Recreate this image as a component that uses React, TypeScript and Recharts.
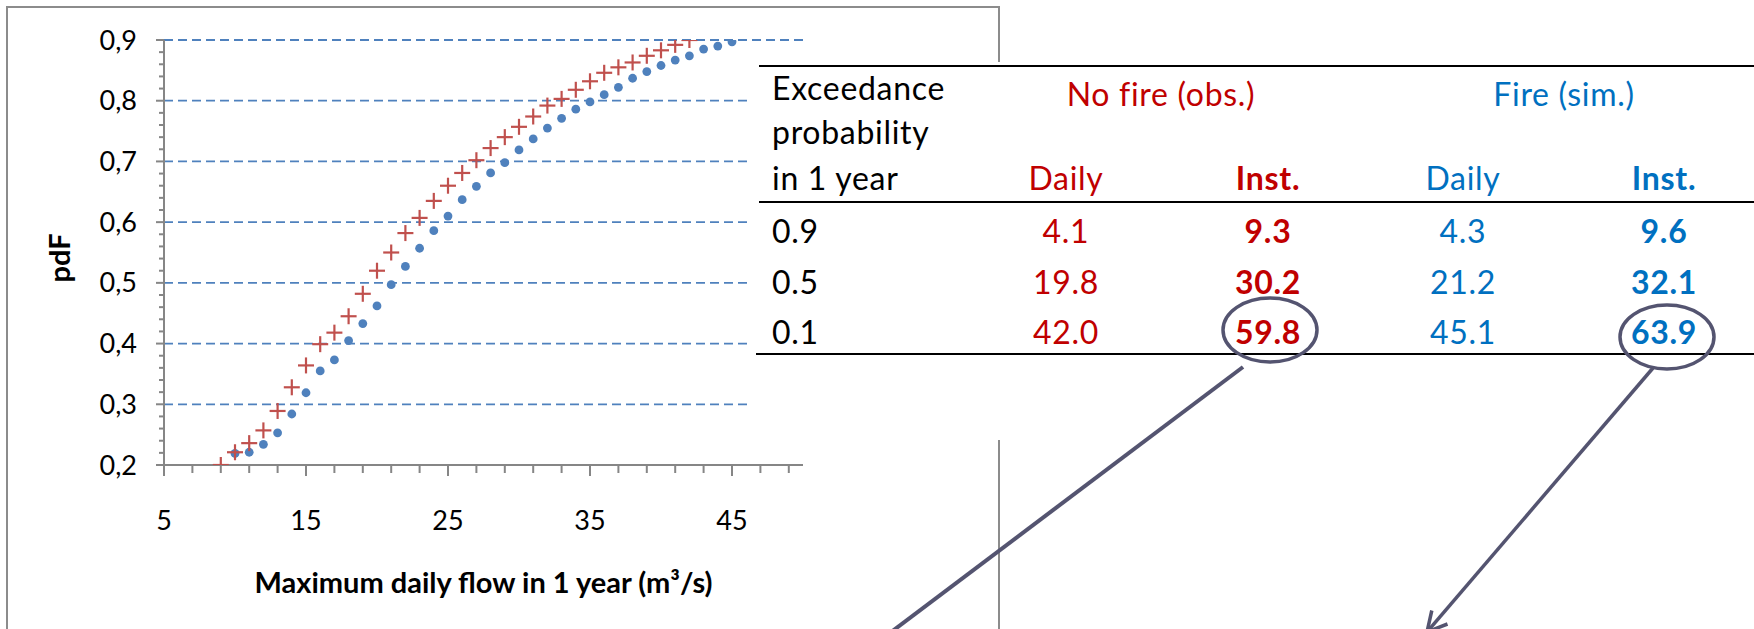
import React from 'react';
import { ScatterChart, Scatter, XAxis, YAxis, ReferenceLine } from 'recharts';

// ---- data ----
const noFireFlow = [9, 10, 11, 12, 13, 14, 15, 16, 17, 18, 19, 20, 21, 22, 23, 24, 25, 26, 27, 28, 29, 30, 31, 32, 33, 34, 35, 36, 37, 38, 39, 40, 41, 42];
const noFirePdf = [0.200, 0.221, 0.236, 0.257, 0.289, 0.328, 0.364, 0.399, 0.418, 0.445, 0.482, 0.520, 0.550, 0.582, 0.607, 0.635, 0.660, 0.681, 0.702, 0.722, 0.740, 0.757, 0.774, 0.792, 0.803, 0.818, 0.832, 0.846, 0.855, 0.863, 0.874, 0.883, 0.892, 0.900];
const fireFlow = [10, 11, 12, 13, 14, 15, 16, 17, 18, 19, 20, 21, 22, 23, 24, 25, 26, 27, 28, 29, 30, 31, 32, 33, 34, 35, 36, 37, 38, 39, 40, 41, 42, 43, 44, 45];
const firePdf = [0.219, 0.221, 0.234, 0.253, 0.284, 0.319, 0.355, 0.373, 0.405, 0.433, 0.462, 0.497, 0.527, 0.557, 0.586, 0.610, 0.637, 0.659, 0.681, 0.698, 0.719, 0.737, 0.755, 0.771, 0.786, 0.798, 0.810, 0.822, 0.837, 0.848, 0.858, 0.867, 0.874, 0.885, 0.890, 0.897];

const xTicks = [5, 7, 9, 11, 13, 15, 17, 19, 21, 23, 25, 27, 29, 31, 33, 35, 37, 39, 41, 43, 45, 47, 49];
const xLabelTicks = [5, 15, 25, 35, 45];
const yTicks = [0.2, 0.22, 0.24, 0.26, 0.28, 0.3, 0.32, 0.34, 0.36, 0.38, 0.4, 0.42, 0.44, 0.46, 0.48, 0.5, 0.52, 0.54, 0.56, 0.58, 0.6, 0.62, 0.64, 0.66, 0.68, 0.7, 0.72, 0.74, 0.76, 0.78, 0.8, 0.82, 0.84, 0.86, 0.88, 0.9];
const yLabelTicks = ['0,2', '0,3', '0,4', '0,5', '0,6', '0,7', '0,8', '0,9'];
const yLabelValues = [0.2, 0.3, 0.4, 0.5, 0.6, 0.7, 0.8, 0.9];
const gridValues = [0.3, 0.4, 0.5, 0.6, 0.7, 0.8, 0.9];

const tableProb = ['0.9', '0.5', '0.1'];
const noFireDaily = ['4.1', '19.8', '42.0'];
const noFireInst = ['9.3', '30.2', '59.8'];
const fireDaily = ['4.3', '21.2', '45.1'];
const fireInst = ['9.6', '32.1', '63.9'];

const noFireData = noFireFlow.map((x, i) => ({ x, y: noFirePdf[i] }));
const fireData = fireFlow.map((x, i) => ({ x, y: firePdf[i] }));

// ---- layout ----
const W = 1754;
const H = 629;
const PLOT_L = 164;
const PLOT_R = 803;
const PLOT_T = 40;
const PLOT_B = 465;
const FONT = 'Lato, "Open Sans", sans-serif';
const AXIS_GRAY = '#868686';
const RED_MARK = '#C0504D';
const BLUE_MARK = '#4F81BD';
const RED_TXT = '#C00000';
const BLUE_TXT = '#0070C0';
const ANNOT = '#545470';

const CrossShape = (props: any) => {
  const { cx, cy } = props;
  if (cx == null || cy == null) return <g />;
  return (
    <g>
      <line x1={cx - 8} x2={cx + 8} y1={cy} y2={cy} stroke={RED_MARK} strokeWidth={2.2} />
      <line x1={cx} x2={cx} y1={cy - 8} y2={cy + 8} stroke={RED_MARK} strokeWidth={2.2} />
    </g>
  );
};

const DotShape = (props: any) => {
  const { cx, cy } = props;
  if (cx == null || cy == null) return <g />;
  return <circle cx={cx} cy={cy} r={4.4} fill={BLUE_MARK} />;
};

const XTick = (props: any) => {
  const { x, y, payload } = props;
  const v = payload.value;
  const idx = xLabelTicks.indexOf(v);
  const major = idx >= 0;
  return (
    <g>
      <line x1={x} x2={x} y1={y} y2={y + (major ? 11 : 8)} stroke={AXIS_GRAY} strokeWidth={2} />
      {major && (
        <text x={x} y={y + 65} textAnchor="middle" fontFamily={FONT} fontSize={27} fill="#000">
          {String(v)}
        </text>
      )}
    </g>
  );
};

const YTick = (props: any) => {
  const { x, y, payload } = props;
  const v = payload.value;
  let idx = -1;
  yLabelValues.forEach((lv, i) => {
    if (Math.abs(lv - v) < 1e-6) idx = i;
  });
  const major = idx >= 0;
  return (
    <g>
      <line x1={x - (major ? 8 : 5)} x2={x} y1={y} y2={y} stroke={AXIS_GRAY} strokeWidth={2} />
      {major && (
        <text x={x - 27} y={y + 9.5} textAnchor="end" fontFamily={FONT} fontSize={27} fill="#000">
          {yLabelTicks[idx]}
        </text>
      )}
    </g>
  );
};

const XTitle = () => (
  <text x={(PLOT_L + PLOT_R) / 2} y={593} textAnchor="middle" fontFamily={FONT} fontWeight="bold" fontSize={29} fill="#000">
    Maximum daily flow in 1 year (m³/s)
  </text>
);

const YTitle = () => (
  <text transform={`translate(70, 258) rotate(-90)`} textAnchor="middle" fontFamily={FONT} fontWeight="bold" fontSize={29} fill="#000">
    pdF
  </text>
);

const Overlay = () => {
  const rowBase = [243, 294, 344];
  const cDaily1 = 1066;
  const cInst1 = 1268;
  const cDaily2 = 1463;
  const cInst2 = 1664;
  return (
    <svg width={W} height={H} style={{ position: 'absolute', left: 0, top: 0, pointerEvents: 'none' }}>
      {/* chart frame */}
      <path d={`M7,${H + 10} V7 H999 V${H + 10}`} fill="none" stroke="#8C8C8C" strokeWidth={2} />
      {/* table background */}
      <rect x={750} y={62} width={W - 750} height={378} fill="#fff" />
      {/* table rules */}
      <line x1={759} x2={W} y1={66} y2={66} stroke="#000" strokeWidth={2} />
      <line x1={759} x2={W} y1={202} y2={202} stroke="#000" strokeWidth={2} />
      <line x1={756} x2={W} y1={354} y2={354} stroke="#000" strokeWidth={2} />
      {/* header */}
      <g fontFamily={FONT} fontSize={32} letterSpacing={0.7}>
        <text x={772} y={100} fill="#000">Exceedance</text>
        <text x={772} y={144} fill="#000">probability</text>
        <text x={772} y={190} fill="#000">in 1 year</text>
        <text x={1161} y={106} fill={RED_TXT} textAnchor="middle">No fire (obs.)</text>
        <text x={1564} y={106} fill={BLUE_TXT} textAnchor="middle">Fire (sim.)</text>
        <text x={cDaily1} y={190} fill={RED_TXT} textAnchor="middle">Daily</text>
        <text x={cInst1} y={190} fill={RED_TXT} textAnchor="middle" fontWeight="bold">Inst.</text>
        <text x={cDaily2} y={190} fill={BLUE_TXT} textAnchor="middle">Daily</text>
        <text x={cInst2} y={190} fill={BLUE_TXT} textAnchor="middle" fontWeight="bold">Inst.</text>
        {tableProb.map((p, i) => (
          <g key={p}>
            <text x={772} y={rowBase[i]} fill="#000">{p}</text>
            <text x={cDaily1} y={rowBase[i]} fill={RED_TXT} textAnchor="middle">{noFireDaily[i]}</text>
            <text x={cInst1} y={rowBase[i]} fill={RED_TXT} textAnchor="middle" fontWeight="bold">{noFireInst[i]}</text>
            <text x={cDaily2} y={rowBase[i]} fill={BLUE_TXT} textAnchor="middle">{fireDaily[i]}</text>
            <text x={cInst2} y={rowBase[i]} fill={BLUE_TXT} textAnchor="middle" fontWeight="bold">{fireInst[i]}</text>
          </g>
        ))}
      </g>
      {/* annotations */}
      <ellipse cx={1270} cy={330} rx={47} ry={32} fill="none" stroke={ANNOT} strokeWidth={3.5} />
      <ellipse cx={1667} cy={337} rx={47} ry={32} fill="none" stroke={ANNOT} strokeWidth={3.5} />
      <line x1={1243} y1={367} x2={854} y2={660} stroke={ANNOT} strokeWidth={4} />
      <line x1={1653} y1={368} x2={1427} y2={632} stroke={ANNOT} strokeWidth={3.5} />
      <polyline points="1447.5,624 1427,632 1431.8,610.5" fill="none" stroke={ANNOT} strokeWidth={3.5} />
    </svg>
  );
};

export default function App() {
  return (
    <div style={{ position: 'absolute', left: 0, top: 0, width: W, height: H, background: '#fff', overflow: 'hidden' }}>
      <ScatterChart
        width={W}
        height={H}
        margin={{ top: PLOT_T, right: W - PLOT_R, bottom: H - PLOT_B - 30, left: PLOT_L - 60 }}
      >
        <XAxis
          type="number"
          dataKey="x"
          domain={[5, 50]}
          ticks={xTicks}
          interval={0}
          allowDataOverflow
          height={30}
          axisLine={{ stroke: AXIS_GRAY, strokeWidth: 2 }}
          tickLine={false}
          tickSize={0}
          tickMargin={0}
          tick={<XTick />}
          label={<XTitle />}
        />
        <YAxis
          type="number"
          dataKey="y"
          domain={[0.2, 0.9]}
          ticks={yTicks}
          interval={0}
          allowDataOverflow
          width={60}
          axisLine={{ stroke: AXIS_GRAY, strokeWidth: 2 }}
          tickLine={false}
          tickSize={0}
          tickMargin={0}
          tick={<YTick />}
          label={<YTitle />}
        />
        {gridValues.map((g) => (
          <ReferenceLine key={g} y={g} stroke={BLUE_MARK} strokeWidth={1.8} strokeDasharray="9 5" />
        ))}
        <Scatter name="Fire (sim.)" data={fireData} shape={<DotShape />} isAnimationActive={false} />
        <Scatter name="No fire (obs.)" data={noFireData} shape={<CrossShape />} isAnimationActive={false} />
      </ScatterChart>
      <Overlay />
    </div>
  );
}
